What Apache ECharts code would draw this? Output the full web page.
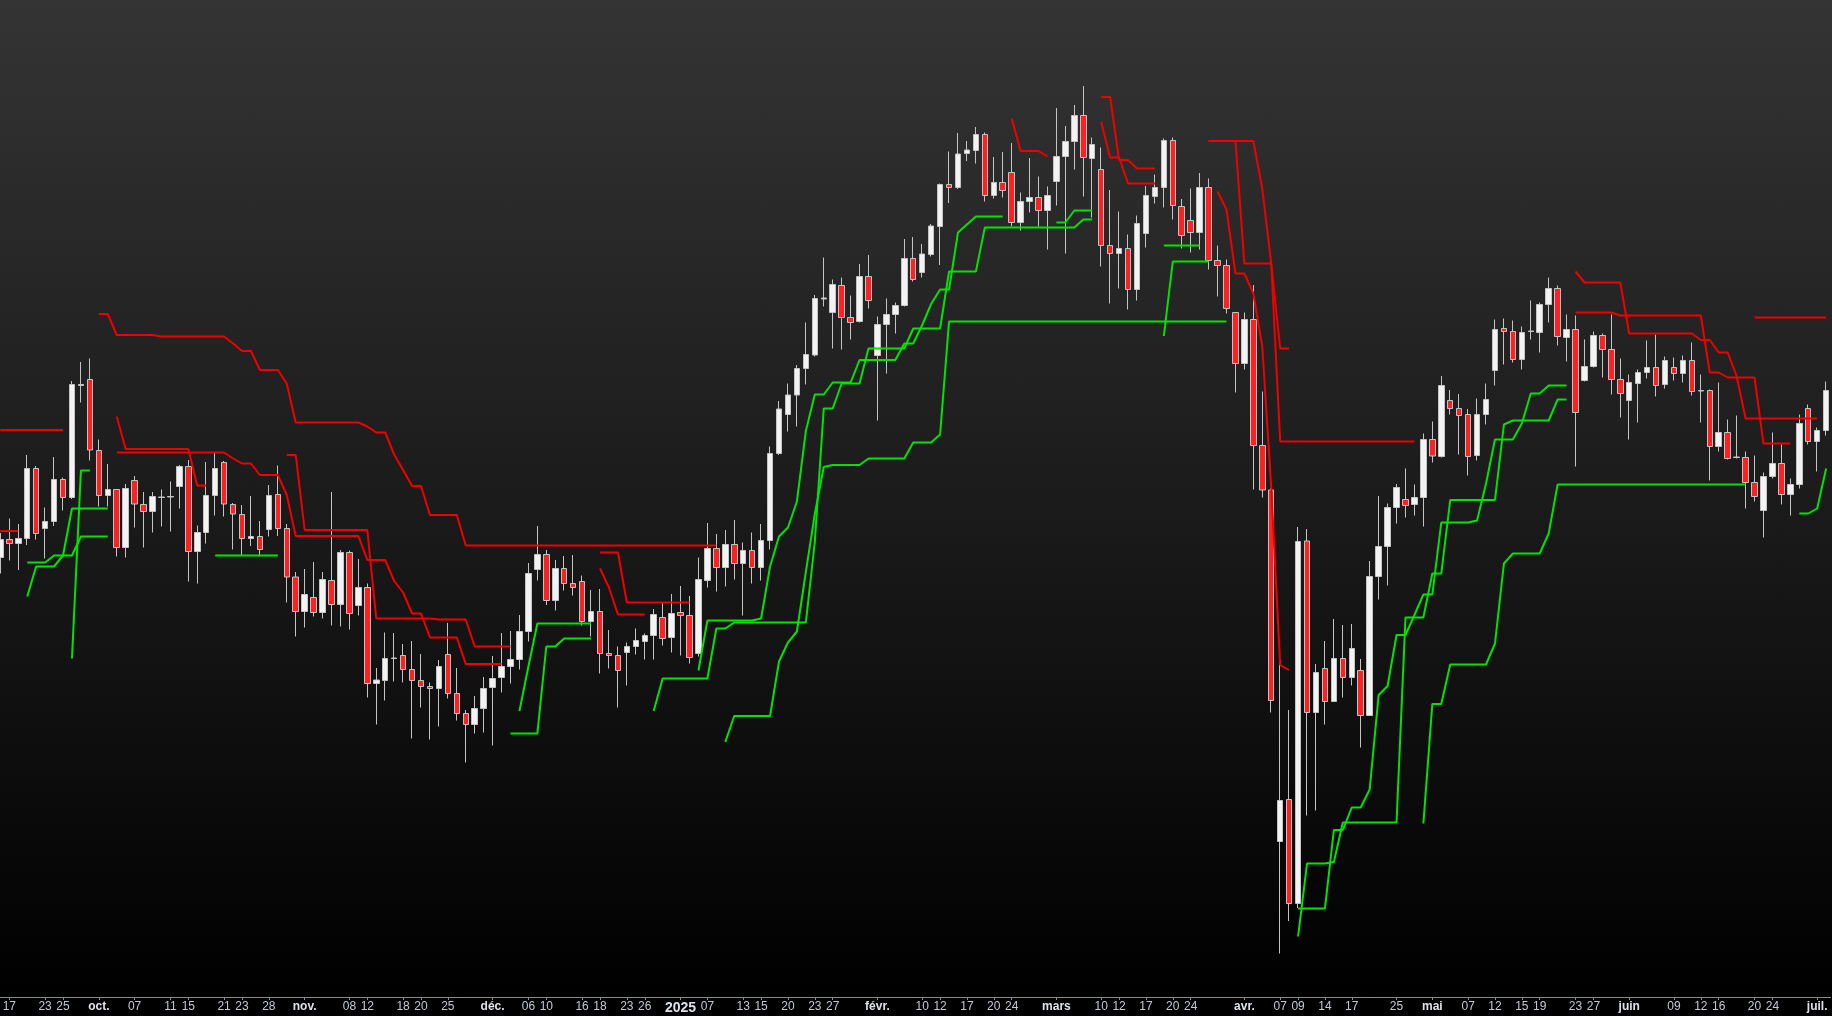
<!DOCTYPE html>
<html>
<head>
<meta charset="utf-8">
<script src="https://cdn.jsdelivr.net/npm/echarts@6/dist/echarts.min.js"></script>
<style>
html,body{margin:0;padding:0;background:#000;}
#chart{width:1832px;height:1016px;background:linear-gradient(to bottom,#343434 0px,#1c1c1c 480px,#000000 997px,#000000 1016px);}
</style>
</head>
<body>
<div id="chart"></div>
<script>
// ---- trading days (categories) ----
const tradingMonths = [
 ['2024-09', [16,17,18,19,20,23,24,25,26,27,30]],
 ['2024-10', [1,2,3,4,7,8,9,10,11,14,15,16,17,18,21,22,23,24,25,28,29,30,31]],
 ['2024-11', [1,4,5,6,7,8,11,12,13,14,15,18,19,20,21,22,25,26,27,28,29]],
 ['2024-12', [2,3,4,5,6,9,10,11,12,13,16,17,18,19,20,23,24,26,27,30,31]],
 ['2025-01', [2,3,6,7,8,9,10,13,14,15,16,17,20,21,22,23,24,27,28,29,30,31]],
 ['2025-02', [3,4,5,6,7,10,11,12,13,14,17,18,19,20,21,24,25,26,27,28]],
 ['2025-03', [3,4,5,6,7,10,11,12,13,14,17,18,19,20,21,24,25,26,27,28,31]],
 ['2025-04', [1,2,3,4,7,8,9,10,11,14,15,16,17,21,22,23,24,25,28,29,30]],
 ['2025-05', [1,2,5,6,7,8,9,12,13,14,15,16,19,20,21,22,23,26,27,28,29,30]],
 ['2025-06', [2,3,4,5,6,9,10,11,12,13,16,17,18,19,20,23,24,25,26,27,30]],
 ['2025-07', [1,2]]
];

// ---- axis tick labels ----
const tickLabels = [
 ['2024-09-17','17'],['2024-09-23','23'],['2024-09-25','25'],['2024-10-01','oct.'],['2024-10-07','07'],['2024-10-11','11'],['2024-10-15','15'],['2024-10-21','21'],['2024-10-23','23'],['2024-10-28','28'],
 ['2024-11-01','nov.'],['2024-11-08','08'],['2024-11-12','12'],['2024-11-18','18'],['2024-11-20','20'],['2024-11-25','25'],
 ['2024-12-02','déc.'],['2024-12-06','06'],['2024-12-10','10'],['2024-12-16','16'],['2024-12-18','18'],['2024-12-23','23'],['2024-12-26','26'],
 ['2025-01-02','2025'],['2025-01-07','07'],['2025-01-13','13'],['2025-01-15','15'],['2025-01-20','20'],['2025-01-23','23'],['2025-01-27','27'],
 ['2025-02-03','févr.'],['2025-02-10','10'],['2025-02-12','12'],['2025-02-17','17'],['2025-02-20','20'],['2025-02-24','24'],
 ['2025-03-03','mars'],['2025-03-10','10'],['2025-03-12','12'],['2025-03-17','17'],['2025-03-20','20'],['2025-03-24','24'],
 ['2025-04-01','avr.'],['2025-04-07','07'],['2025-04-09','09'],['2025-04-14','14'],['2025-04-17','17'],['2025-04-25','25'],
 ['2025-05-01','mai'],['2025-05-07','07'],['2025-05-12','12'],['2025-05-15','15'],['2025-05-19','19'],['2025-05-23','23'],['2025-05-27','27'],
 ['2025-06-02','juin'],['2025-06-09','09'],['2025-06-12','12'],['2025-06-16','16'],['2025-06-20','20'],['2025-06-24','24'],
 ['2025-07-01','juil.']
];

// ---- OHLC (one entry per trading day, from 2024-09-16) ----
const opens = [7385,7421,7413,7423,7563,7443,7457,7541,7505,7729,7741,7599,7509,7521,7405,7539,7491,7477,7505,7506,7527,7567,7397,7435,7509,7575,7491,7471,7423,7427,7441,7511,7443,7346,7277,7305,7275,7339,7291,7395,7289,7325,7133,7139,7183,7189,7161,7139,7127,7123,7191,7113,7073,7051,7083,7125,7145,7167,7181,7237,7361,7391,7299,7363,7333,7337,7257,7277,7193,7189,7195,7207,7217,7229,7265,7225,7275,7269,7193,7339,7403,7365,7411,7373,7399,7365,7419,7593,7671,7710,7763,7790,7902,7875,7929,7865,7857,7947,7789,7851,7871,7889,7983,7955,7991,8047,8131,8125,8193,8199,8231,8109,8135,8155,8055,8097,8105,8079,8137,8187,8217,8269,8183,8161,8009,7993,8003,7921,8033,8107,8125,8219,8087,8059,8035,8125,7979,7969,7875,7773,7861,7609,7520,6817,6901,6693,7418,7075,7163,7097,7183,7145,7159,7069,7347,7407,7485,7501,7491,7505,7621,7587,7699,7683,7671,7589,7671,7759,7843,7837,7781,7837,7835,7891,7923,7825,7841,7739,7767,7829,7801,7741,7699,7733,7755,7765,7731,7765,7753,7779,7718,7719,7607,7635,7585,7585,7535,7479,7547,7573,7511,7531,7683,7617,7639];
const closes = [7421,7413,7423,7563,7433,7457,7541,7505,7731,7731,7600,7509,7521,7405,7523,7492,7477,7507,7506,7507,7567,7397,7435,7509,7563,7492,7472,7423,7427,7401,7509,7443,7346,7277,7311,7275,7341,7291,7395,7273,7325,7133,7140,7183,7184,7161,7139,7127,7123,7167,7113,7073,7051,7083,7123,7143,7167,7181,7237,7353,7391,7299,7363,7333,7325,7257,7277,7193,7189,7159,7207,7219,7229,7271,7223,7273,7269,7185,7341,7403,7365,7411,7373,7399,7365,7419,7593,7682,7710,7763,7791,7903,7904,7931,7865,7855,7947,7899,7851,7871,7889,7983,7941,7992,8048,8131,8125,8192,8200,8231,8109,8135,8119,8055,8097,8105,8079,8109,8187,8217,8269,8185,8211,8009,7993,8003,7921,8053,8109,8125,8219,8089,8029,8035,8125,7979,7969,7883,7773,7861,7609,7520,7099,6899,6693,7417,7075,7155,7097,7183,7145,7203,7069,7347,7407,7485,7525,7489,7505,7621,7588,7729,7683,7669,7587,7671,7701,7841,7837,7781,7835,7838,7891,7923,7827,7841,7675,7767,7829,7801,7741,7713,7735,7755,7765,7729,7779,7753,7779,7717,7719,7607,7635,7583,7586,7535,7507,7547,7573,7511,7531,7653,7617,7639,7719];
const lows = [7353,7379,7360,7410,7421,7383,7448,7479,7502,7695,7579,7487,7487,7387,7385,7445,7405,7435,7447,7437,7483,7337,7333,7413,7469,7467,7401,7389,7408,7387,7427,7428,7295,7227,7245,7267,7263,7249,7247,7241,7269,7105,7051,7099,7137,7135,7023,7085,7021,7047,7103,7059,6975,7033,7035,7009,7115,7133,7161,7217,7339,7290,7279,7319,7309,7249,7227,7153,7163,7085,7129,7191,7181,7181,7209,7195,7189,7173,7187,7325,7317,7327,7341,7269,7333,7339,7401,7590,7637,7647,7731,7787,7887,7803,7801,7821,7855,7883,7659,7753,7833,7887,7937,7945,7987,7970,8094,8122,8178,8173,8097,8103,8105,8047,8039,8075,8047,8001,8089,7993,8161,8107,8065,7967,7893,7923,7881,7899,8005,8093,8085,8061,8003,7995,8001,7961,7907,7873,7715,7761,7521,7505,7075,6593,6658,6684,6869,6879,7051,7096,7105,7129,7005,7068,7301,7329,7453,7465,7469,7447,7575,7585,7671,7591,7549,7579,7651,7729,7771,7775,7761,7821,7795,7855,7809,7777,7567,7737,7765,7745,7711,7665,7621,7655,7743,7707,7723,7739,7735,7709,7655,7539,7597,7581,7583,7483,7497,7425,7543,7491,7469,7523,7611,7557,7629];
const highs = [7434,7463,7452,7590,7568,7485,7586,7545,7738,7776,7783,7621,7572,7522,7532,7548,7516,7516,7521,7537,7570,7580,7449,7576,7594,7578,7494,7490,7508,7458,7530,7569,7452,7356,7362,7376,7356,7516,7400,7399,7382,7333,7164,7235,7234,7212,7218,7192,7135,7180,7254,7164,7080,7108,7146,7188,7234,7238,7270,7374,7448,7400,7380,7388,7390,7349,7320,7322,7240,7207,7215,7243,7233,7282,7294,7312,7328,7308,7385,7454,7432,7440,7460,7415,7435,7452,7607,7698,7733,7770,7855,7910,7985,7941,7945,7909,7972,7990,7867,7903,7895,8022,8026,8012,8052,8133,8197,8234,8218,8246,8235,8186,8196,8214,8115,8184,8147,8127,8284,8248,8290,8328,8225,8205,8120,8077,8031,8069,8128,8151,8223,8225,8102,8123,8154,8143,8009,7981,7876,7875,7930,7717,7524,7200,7080,7446,7442,7172,7218,7262,7250,7252,7182,7378,7508,7493,7532,7563,7531,7633,7657,7748,7720,7712,7682,7703,7733,7861,7863,7859,7847,7899,7895,7945,7929,7871,7869,7821,7837,7833,7871,7783,7751,7761,7819,7831,7787,7785,7789,7815,7751,7721,7735,7661,7669,7597,7589,7555,7635,7611,7543,7671,7691,7645,7737];

// ---- red stop lines: start day + values ----
const redR1 = {from:'2024-09-16', v:[7640,7640,7640,7640,7640,7640,7640,7640]};
const redR2 = {from:'2024-09-16', v:[7438,7438,7438]};
const redR3 = {from:'2024-10-01', v:[7872,7872,7830,7830,7830,7830,7830,7827,7827,7827,7827,7827,7827,7827,7827,7813,7798,7798,7760,7760,7760,7733,7655,7655,7655,7655,7655,7655,7655,7655,7647,7635,7635,7591,7560,7528,7528,7470,7470,7470,7470,7409,7409,7409,7409,7409,7409,7409,7409,7409,7409,7409,7409,7409,7409,7409,7409,7409,7409,7409,7409,7409,7409,7409,7409,7409,7409,7409,7409,7409]};
const redR4 = {from:'2024-10-03', v:[7667,7602,7602,7602,7602,7602,7602,7602,7602,7529,7529]};
const redR5 = {from:'2024-10-03', v:[7595,7595,7595,7595,7595,7595,7595,7595,7595,7595,7595,7595,7595,7583,7573,7573,7550,7550,7550,7510,7428,7428,7428,7428,7428,7428,7428,7428,7380,7380,7380,7338,7315,7273,7273,7225,7225,7225,7225,7172,7172,7172,7172,7172]};
const redR6 = {from:'2024-10-30', v:[7590,7590,7440,7440,7440,7440,7440,7440,7440,7440,7263,7263,7263,7263,7263,7263,7263,7261,7261,7261,7261,7207,7207,7207,7207,7207]};
const redR7 = {from:'2024-12-18', v:[7395,7395,7395,7295,7295,7295,7295,7295,7295,7295,7295]};
const redR8 = {from:'2024-12-18', v:[7363,7325,7271,7271,7271,7271]};
const redR9 = {from:'2025-02-24', v:[8263,8198,8198,8198,8187]};
const redR10 = {from:'2025-03-10', v:[8306,8306,8180,8180,8163,8163,8163]};
const redR11 = {from:'2025-03-10', v:[8256,8185,8185,8133,8133,8133,8133]};
const redR12 = {from:'2025-03-26', v:[8218,8218,8218,8218,7973,7973,7973,7973,7803,7803]};
const redR13 = {from:'2025-03-26', v:[8218,8218,8218,8218,8218,8218,8122,7973,7617,7617,7617,7617,7617,7617,7617,7617,7617,7617,7617,7617,7617,7617,7617,7617]};
const redR14 = {from:'2025-03-27', v:[8117,8081,7953,7953,7913,7807,7524,7170,7160]};
const redR15 = {from:'2025-05-23', v:[7957,7935,7935,7935,7935,7935,7833,7833,7833,7833,7833,7833,7833,7833,7820,7820,7795,7795,7748,7663,7663,7663,7663,7663,7663,7663,7663,7663]};
const redR16 = {from:'2025-05-23', v:[7875,7875,7875,7875,7875,7869,7869,7869,7869,7869,7869,7869,7869,7869,7869,7755,7755,7745,7745,7745,7745,7613,7613,7613,7613]};
const redR17 = {from:'2025-06-20', v:[7865,7865,7865,7865,7865,7865,7865,7865,7865]};

// ---- green stop lines ----
const grnG1 = {from:'2024-09-19', v:[7307,7367,7367,7367,7389,7483,7483,7483,7483,7483]};
const grnG2 = {from:'2024-09-19', v:[7375,7375,7375,7389,7389,7389,7427,7427,7427,7427]};
const grnG3 = {from:'2024-09-26', v:[7183,7559,7559]};
const grnG4 = {from:'2024-10-18', v:[7389,7389,7389,7389,7389,7389,7389,7389]};
const grnG5 = {from:'2024-12-04', v:[7033,7033,7033,7033,7207,7207,7223,7223,7223,7223]};
const grnG6 = {from:'2024-12-05', v:[7078,7167,7253,7253,7253,7253,7253,7253,7253]};
const grnG7 = {from:'2024-12-27', v:[7078,7143,7143,7143,7143,7143,7143,7243,7243,7255,7255,7255,7255,7255,7255,7255,7255,7255,7416,7683,7683,7733,7733,7733,7803,7803,7803,7803,7803,7843,7843,7843,7843,7957,7957,7957,7957,8045,8045,8045,8045,8045,8045,8045,8045,8045,8045,8045,8061,8061]};
const grnG8 = {from:'2025-01-06', v:[7159,7259,7259,7259,7259,7259,7259,7263,7367,7427,7445,7497,7638,7711,7711,7735,7735,7735,7780,7780,7780,7780,7780,7813,7813,7850,7892,7921,7921,8035,8051,8067,8067,8067,8067]};
const grnG9 = {from:'2025-01-09', v:[7016,7068,7068,7068,7068,7068,7177,7215,7237,7356,7472,7566,7570,7570,7570,7570,7583,7583,7583,7583,7583,7615,7615,7615,7631,7857,7857,7857,7857,7857,7857,7857,7857,7857,7857,7857,7857,7857,7857,7857,7857,7857,7857,7857,7857,7857,7857,7857,7857,7857,7857,7857,7857,7857,7857,7857,7857]};
const grnG10 = {from:'2025-03-03', v:[8055,8055,8079,8079,8079]};
const grnG11 = {from:'2025-03-19', v:[8009,8009,8009,8009,8009]};
const grnG12 = {from:'2025-03-19', v:[7828,7977,7977,7977,7977,7977]};
const grnG13 = {from:'2025-04-09', v:[6683,6683,6683,6683,6840,6840,6885,6885,6921,7110,7128,7230,7230,7270,7311,7311,7455,7455,7455,7455,7459,7533,7621,7621,7621,7653,7713,7713,7729,7729,7729]};
const grnG14 = {from:'2025-04-09', v:[6627,6773,6773,6773,6776,6855,6855,6855,6855,6855,6855,6855,7265,7265,7265,7353,7353,7500,7500,7500,7500,7500,7500,7651,7659,7659,7659,7659,7659,7701,7701]};
const grnG15 = {from:'2025-04-30', v:[6853,7092,7092,7171,7171,7171,7171,7171,7213,7373,7393,7393,7393,7393,7433,7531,7531,7531,7531,7531,7531,7531,7531,7531,7531,7531,7531,7531,7531,7531,7531,7531,7531,7531,7531,7531,7531]};
const grnG16 = {from:'2025-06-27', v:[7473,7473,7483,7563]};

const redLines = [redR1,redR2,redR3,redR4,redR5,redR6,redR7,redR8,redR9,redR10,redR11,redR12,redR13,redR14,redR15,redR16,redR17];
const greenLines = [grnG1,grnG2,grnG3,grnG4,grnG5,grnG6,grnG7,grnG8,grnG9,grnG10,grnG11,grnG12,grnG13,grnG14,grnG15,grnG16];

// ---- build ----
const pad = n => (n < 10 ? '0' : '') + n;
const dates = [];
tradingMonths.forEach(([m, days]) => days.forEach(d => dates.push(m + '-' + pad(d))));
const labelMap = {};
tickLabels.forEach(([d, t]) => { labelMap[d] = t; });
const labelStyle = t => (/^\d{4}$/.test(t) ? 'y' : (/^\d\d$/.test(t) ? 'd' : 'm'));

const ohlc = dates.map((d, i) => [opens[i], closes[i], lows[i], highs[i]]);

function expand(line) {
  const arr = new Array(dates.length).fill(null);
  const s = dates.indexOf(line.from);
  line.v.forEach((val, j) => { arr[s + j] = val; });
  return arr;
}

const series = [{
  type: 'candlestick',
  data: ohlc,
  barWidth: 6,
  silent: true,
  itemStyle: {
    color: '#f3f3f3',
    color0: '#ff2121',
    borderColor: '#c4c4c4',
    borderColor0: '#c4c4c4',
    borderWidth: 1
  },
  z: 2
}];
redLines.forEach(l => series.push({
  type: 'line', data: expand(l), showSymbol: false, connectNulls: false, silent: true,
  lineStyle: { color: '#f00000', width: 2 }, z: 3
}));
greenLines.forEach(l => series.push({
  type: 'line', data: expand(l), showSymbol: false, connectNulls: false, silent: true,
  lineStyle: { color: '#00e400', width: 2 }, z: 3
}));

const fontNarrow = '"Liberation Sans Narrow","Arial Narrow","Liberation Sans",Arial,sans-serif';
const chart = echarts.init(document.getElementById('chart'), null, { renderer: 'canvas' });
chart.setOption({
  backgroundColor: 'transparent',
  animation: false,
  grid: { left: -4.1, right: 1.4, top: 0, bottom: 19, containLabel: false, outerBoundsMode: 'none' },
  xAxis: {
    type: 'category',
    data: dates,
    boundaryGap: true,
    axisLine: { show: true, lineStyle: { color: '#8a8a8a', width: 1 } },
    axisTick: {
      show: true, alignWithLabel: true, length: 3,
      interval: (i, v) => labelMap[v] !== undefined,
      lineStyle: { color: '#8a8a8a' }
    },
    axisLabel: {
      show: true, margin: 4,
      interval: (i, v) => labelMap[v] !== undefined,
      formatter: (v) => { const t = labelMap[v]; if (t === undefined) return ''; return '{' + labelStyle(t) + '|' + t + '}'; },
      rich: {
        d: { color: '#c3c9d3', fontSize: 12, fontFamily: fontNarrow },
        m: { color: '#dde2ea', fontSize: 12, fontWeight: 'bold', fontFamily: fontNarrow },
        y: { color: '#dde2ea', fontSize: 14, fontWeight: 'bold', fontFamily: fontNarrow }
      }
    },
    splitLine: { show: false }
  },
  yAxis: {
    type: 'value', min: 6506, max: 8500, show: false,
    splitLine: { show: false }
  },
  series: series
});
</script>
</body>
</html>
